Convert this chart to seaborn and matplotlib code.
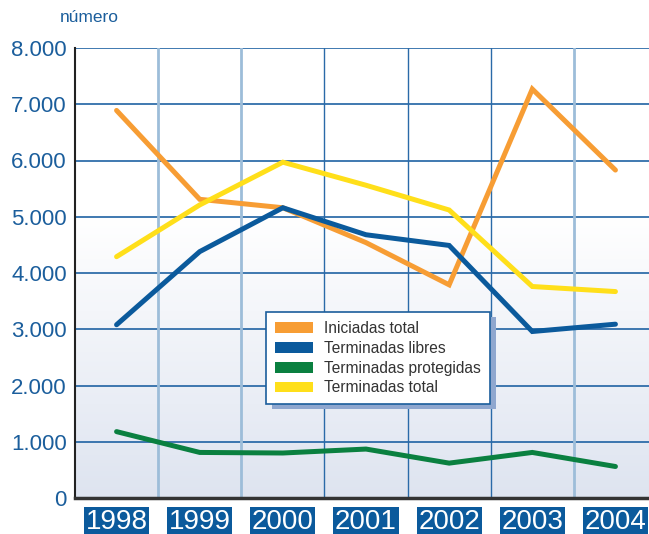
import numpy as np
import pandas as pd
import matplotlib
matplotlib.use("Agg")
import matplotlib.pyplot as plt
from matplotlib.patches import Patch, Rectangle
from matplotlib.transforms import IdentityTransform
import seaborn as sns

# Data
years = ["1998", "1999", "2000", "2001", "2002", "2003", "2004"]
iniciadas_total = [6890, 5310, 5160, 4540, 3790, 7270, 5830]
terminadas_libres = [3080, 4380, 5160, 4680, 4490, 2960, 3090]
terminadas_protegidas = [1180, 810, 800, 870, 620, 810, 560]
terminadas_total = [4290, 5210, 5970, 5560, 5120, 3760, 3670]
series_names = ["Iniciadas total", "Terminadas libres",
                "Terminadas protegidas", "Terminadas total"]
ytick_values = [0, 1000, 2000, 3000, 4000, 5000, 6000, 7000, 8000]
ytick_labels = ["0", "1.000", "2.000", "3.000", "4.000",
                "5.000", "6.000", "7.000", "8.000"]

colors = ["#f79d34", "#0b5a9c", "#0a8040", "#ffdf1a"]
blue_txt = "#1b5e9c"
narrow = ["Liberation Sans Narrow", "Liberation Sans", "DejaVu Sans"]

df = pd.DataFrame({"year": list(range(len(years))) * 4,
                   "value": iniciadas_total + terminadas_libres
                   + terminadas_protegidas + terminadas_total,
                   "serie": np.repeat(series_names, len(years))})

sns.set_style("white")
plt.rcParams["font.family"] = ["Liberation Sans", "DejaVu Sans"]

fig = plt.figure(figsize=(6.49, 5.34), dpi=100)
ax = fig.add_axes([75 / 649, 1 - 498 / 534, 582 / 649, 450 / 534])
ax.set_xlim(-0.5, 6.5)
ax.set_ylim(0, 8000)

# background gradient: white on top, pale blue at the bottom
grad = np.ones((200, 1, 3))
t = np.clip((np.linspace(0, 8000, 200)[::-1] - 5000) / -5000, 0, 1)[:, None]
grad[:, :, 0] = 1 - t * (1 - 222 / 255)
grad[:, :, 1] = 1 - t * (1 - 228 / 255)
grad[:, :, 2] = 1 - t * (1 - 240 / 255)
ax.imshow(grad[::-1], extent=(-0.5, 6.5, 0, 8000), aspect="auto",
          origin="lower", zorder=0)

# grid
for v in ytick_values[1:]:
    ax.axhline(v, color="#1f62a3", lw=1.2, zorder=1)
for i, xv in enumerate(np.arange(0.5, 6.5, 1)):
    if i in (0, 1, 5):
        ax.axvline(xv, color="#9dbdd9", lw=2, zorder=1)
    else:
        ax.axvline(xv, color="#2a6aa8", lw=1, zorder=1)

sns.lineplot(data=df, x="year", y="value", hue="serie", palette=colors,
             hue_order=series_names, lw=3.6, legend=False, ax=ax, zorder=3,
             solid_joinstyle="miter")

ax.set_xlabel("")
ax.set_ylabel("")
ax.set_yticks(ytick_values)
ax.set_yticklabels(ytick_labels, fontsize=16, color=blue_txt)
ax.tick_params(axis="y", length=5, width=2, color="#222222", pad=1)
ax.set_xticks(np.arange(0.5, 6.5, 1))
ax.set_xticklabels([])
ax.tick_params(axis="x", direction="in", length=4, width=2, color="#333333")
for s in ["top", "right"]:
    ax.spines[s].set_visible(False)
ax.spines["left"].set_color("#222222")
ax.spines["left"].set_linewidth(1.5)
ax.spines["bottom"].set_color("#333333")
ax.spines["bottom"].set_linewidth(2.5)

# year labels on dark blue boxes
for i, y in enumerate(years):
    ax.text(i, -190, y, ha="center", va="top", color="white", fontsize=20,
            family=narrow,
            bbox=dict(facecolor="#0b5a9c", edgecolor="none", pad=1.2),
            clip_on=False)

fig.text(60 / 649, 1 - 18 / 534, "número", color=blue_txt, fontsize=12.5,
         va="center", ha="left", family=narrow)

handles = [Patch(facecolor=c, edgecolor="none", label=n)
           for c, n in zip(colors, series_names)]
leg = ax.legend(handles=handles, loc="upper left",
                bbox_to_anchor=(266 / 649, 1 - 312 / 534),
                bbox_transform=fig.transFigure, borderaxespad=0,
                frameon=True, fancybox=False, fontsize=11.2,
                handlelength=2.5, handleheight=0.7, labelspacing=0.32,
                borderpad=0.55, handletextpad=0.7)
leg.get_frame().set_edgecolor(blue_txt)
leg.get_frame().set_linewidth(1.2)
leg.get_frame().set_alpha(None)
leg.get_frame().set_facecolor("white")
leg.set_zorder(6)
for txt in leg.get_texts():
    txt.set_color("#333333")

# legend drop shadow, drawn under the legend
fig.canvas.draw()
bb = leg.get_window_extent()
shadow = Rectangle((bb.x0 + 6, bb.y0 - 5), bb.width, bb.height,
                   transform=IdentityTransform(), facecolor="#8fa7cf",
                   edgecolor="none", zorder=5, clip_on=False)
ax.add_patch(shadow)

plt.savefig("out.png", dpi=100)
plt.close()
